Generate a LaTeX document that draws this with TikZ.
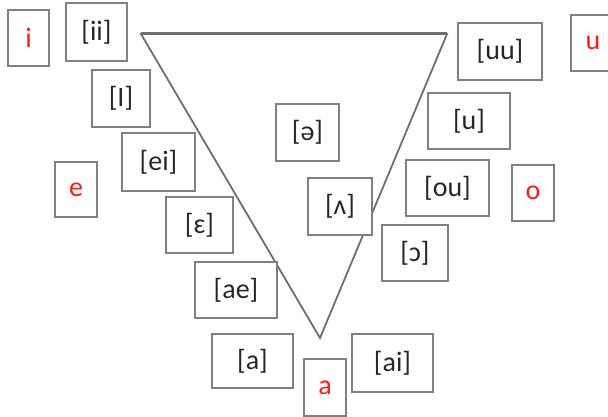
\documentclass[tikz,border=0pt]{standalone}
\usepackage{fontspec}
\setmainfont{Carlito}
\definecolor{boxline}{HTML}{808080}
\definecolor{triline}{HTML}{6E6E6E}
\definecolor{txt}{HTML}{262626}
\definecolor{vred}{HTML}{FF1A1A}
\begin{document}
\begin{tikzpicture}[x=1pt,y=-1pt,
  box/.style={draw=boxline,line width=1.3pt,fill=white,inner sep=0pt,text=txt,font=\fontsize{28}{32}\selectfont},
  rbox/.style={box,text=vred},
  tri/.style={draw=triline,line width=1.8pt,line join=miter}]
\useasboundingbox (0,0) rectangle (608,417);
\coordinate (tl) at (141,34);
\coordinate (tr) at (447,34);
\coordinate (bt) at (320,338);
\draw[tri] (tl) -- (tr) -- (bt) -- cycle;
\draw[draw=triline,line width=3pt] (tl) -- (tr);
\node[rbox,minimum width=41,minimum height=56] (i) at (28.5,38) {i};
\node[box,minimum width=61,minimum height=58] (ii) at (96.5,32) {[ii]};
\node[box,minimum width=58,minimum height=57] (I) at (121,98.5) {[I]};
\node[box,minimum width=73,minimum height=58] (ei) at (158.5,162) {[ei]};
\node[rbox,minimum width=42,minimum height=55] (e) at (76,189.5) {e};
\node[box,minimum width=67,minimum height=56] (eps) at (199.5,225) {[ɛ]};
\node[box,minimum width=82,minimum height=56] (ae) at (236,290) {[ae]};
\node[box,minimum width=81,minimum height=54] (ab) at (252.5,361) {[a]};
\node[rbox,minimum width=42,minimum height=57] (a) at (325,387.5) {a};
\node[box,minimum width=81,minimum height=58] (ai) at (392.5,363) {[ai]};
\node[box,minimum width=84,minimum height=57] (uu) at (500,51.5) {[uu]};
\node[rbox,minimum width=44,minimum height=56] (u) at (593,43) {u};
\node[box,minimum width=82,minimum height=56] (ub) at (469,121) {[u]};
\node[box,minimum width=83,minimum height=56] (ou) at (447.5,188) {[ou]};
\node[rbox,minimum width=42,minimum height=56] (o) at (533,193) {o};
\node[box,minimum width=66,minimum height=56] (oo) at (415,253) {[ɔ]};
\node[box,minimum width=63,minimum height=57] (schwa) at (307.5,132.5) {[ə]};
\node[box,minimum width=64,minimum height=57] (wedge) at (340,206.5) {[ʌ]};
\end{tikzpicture}
\end{document}
